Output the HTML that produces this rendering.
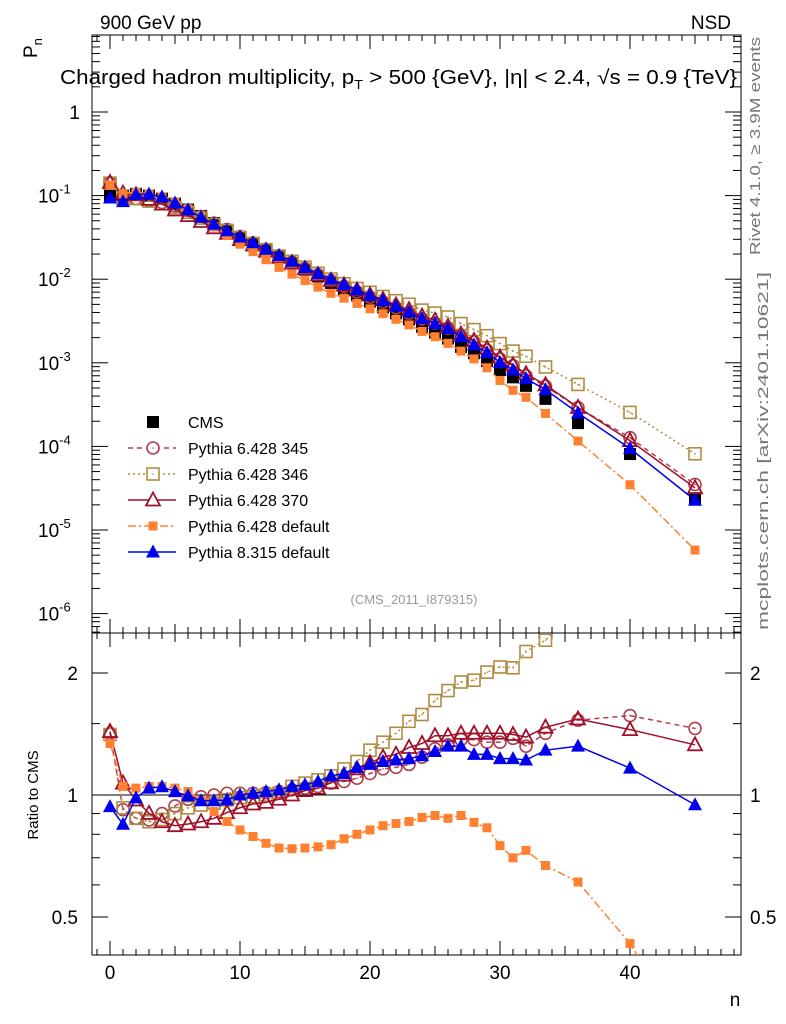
<!DOCTYPE html>
<html><head><meta charset="utf-8"><style>
body{margin:0;background:#fff}
svg{display:block;font-family:"Liberation Sans",sans-serif}
</style></head><body>
<svg id="chart" width="786" height="1024" viewBox="0 0 786 1024" xmlns="http://www.w3.org/2000/svg">
<text x="100" y="29" font-size="19">900 GeV pp</text>
<text x="731" y="29" font-size="19" text-anchor="end">NSD</text>
<text x="60" y="84" font-size="20" textLength="677" lengthAdjust="spacingAndGlyphs">Charged hadron multiplicity, p<tspan font-size="13" dy="5">T</tspan><tspan dy="-5"> &gt; 500 {GeV}, |η| &lt; 2.4, √s = 0.9 {TeV}</tspan></text>
<text transform="translate(37,58) rotate(-90)" font-size="19">P<tspan font-size="13" dy="5">n</tspan></text>
<text transform="translate(760,255) rotate(-90)" font-size="15" fill="#777" textLength="218" lengthAdjust="spacingAndGlyphs">Rivet 4.1.0, ≥ 3.9M events</text>
<text transform="translate(768,630) rotate(-90)" font-size="15" fill="#777" textLength="358" lengthAdjust="spacingAndGlyphs">mcplots.cern.ch [arXiv:2401.10621]</text>
<text x="414" y="604" font-size="13" fill="#999" text-anchor="middle">(CMS_2011_I879315)</text>
<text transform="translate(38,795) rotate(-90)" font-size="15" text-anchor="middle">Ratio to CMS</text>
<text x="735" y="1006" font-size="19" text-anchor="middle">n</text>
<g id="axes"></g>
<g id="marks"></g>
<g id="legend"></g>
<defs><clipPath id="rclip"><rect x="92" y="634" width="649" height="321"/></clipPath><clipPath id="mclip"><rect x="92" y="35" width="649" height="598"/></clipPath></defs>
</svg>
<script>
const nVals=[0,1,2,3,4,5,6,7,8,9,10,11,12,13,14,15,16,17,18,19,20,21,22,23,24,25,26,27,28,29,30,31,32,33.5,36,40,45];
const cmsVals=[0.1,0.1,0.105,0.1,0.092,0.08,0.068,0.057,0.047,0.039,0.032,0.027,0.0225,0.0187,0.0156,0.013,0.0108,0.009,0.0076,0.0064,0.0054,0.0046,0.0039,0.0033,0.0027,0.0023,0.00195,0.00155,0.0013,0.00105,0.00082,0.00067,0.00053,0.00037,0.00019,0.000081,0.000024];
const r345=[1.42,0.92,0.876,0.868,0.9,0.94,0.976,0.99,1.0,1.01,1.01,1.01,1.013,1.02,1.03,1.04,1.05,1.07,1.08,1.1,1.13,1.16,1.17,1.19,1.24,1.3,1.33,1.37,1.37,1.35,1.35,1.38,1.32,1.42,1.53,1.57,1.46];
const r346=[1.41,0.93,0.876,0.859,0.87,0.9,0.93,0.945,0.955,0.973,0.985,0.99,1.0,1.01,1.05,1.07,1.09,1.115,1.16,1.21,1.29,1.35,1.42,1.52,1.58,1.71,1.81,1.9,1.92,2.01,2.07,2.06,2.26,2.41,2.9,3.15,3.4];
const r370=[1.434,1.07,0.972,0.901,0.859,0.84,0.848,0.859,0.876,0.905,0.93,0.95,0.959,0.976,1.0,1.025,1.039,1.072,1.12,1.16,1.2,1.24,1.26,1.31,1.34,1.4,1.4,1.42,1.42,1.42,1.42,1.41,1.39,1.47,1.54,1.45,1.33];
const r6def=[1.34,1.05,1.04,1.05,1.05,1.04,1.02,0.97,0.91,0.86,0.82,0.79,0.76,0.74,0.737,0.74,0.745,0.754,0.78,0.8,0.82,0.84,0.85,0.86,0.88,0.89,0.876,0.89,0.856,0.83,0.75,0.7,0.73,0.67,0.61,0.43,0.24];
const r8=[0.936,0.847,0.984,1.04,1.048,1.019,0.995,0.968,0.968,0.973,1.0,1.01,1.02,1.03,1.05,1.06,1.08,1.115,1.13,1.17,1.19,1.21,1.22,1.23,1.25,1.28,1.32,1.32,1.26,1.26,1.23,1.23,1.22,1.29,1.32,1.165,0.946];
const xTicks=[0,10,20,30,40];
const yDecades=[0,-1,-2,-3,-4,-5,-6];
const yLabels=["1","10","10","10","10","10","10"];
const ratioTicks=[0.5,1,2];

const NS="http://www.w3.org/2000/svg";
const L=92,R=741,T=35,MB=633,RB=955;
const xs=n=>110+13*n;
const ym=v=>112-83.6*Math.log10(v);
const yr=r=>795-122*Math.log2(r);
function mk(tag,at,parent){const e=document.createElementNS(NS,tag);for(const k in at)e.setAttribute(k,at[k]);parent.appendChild(e);return e;}
const ax=document.getElementById('axes'),mg=document.getElementById('marks'),lg=document.getElementById('legend');

let f1=mk('rect',{x:L,y:T,width:R-L,height:MB-T,fill:'none',stroke:'#000','stroke-width':1},ax);


let f2=mk('rect',{x:L,y:MB,width:R-L,height:RB-MB,fill:'none',stroke:'#000','stroke-width':1},ax);


let one=mk('line',{x1:L,x2:R,y1:yr(1),y2:yr(1),stroke:'#000'},ax);



for(let n=-1;n<=48;n++){
  const x=xs(n);if(x<L||x>R)continue;
  const big=n%10===0, med=n%5===0;
  const len=big?14:(med?9:6);
  for(const [y0,d] of [[MB,-1],[T,1],[RB,-1],[MB,1]]){
    mk('line',{x1:x,x2:x,y1:y0,y2:y0+d*len,stroke:'#000'},ax);
  }
}
xTicks.forEach(t=>{
  let tx=mk('text',{x:xs(t),y:979,'font-size':19,'text-anchor':'middle'},ax);
  tx.textContent=t;
  
  
});
yDecades.forEach((d,i)=>{
  const y=ym(Math.pow(10,d));
  mk('line',{x1:L,x2:L+16,y1:y,y2:y,stroke:'#000'},ax);
  mk('line',{x1:R,x2:R-16,y1:y,y2:y,stroke:'#000'},ax);
  for(let m=2;m<=9;m++){
    const yy=ym(m*Math.pow(10,d-1));
    if(yy<T||yy>MB)continue;
    mk('line',{x1:L,x2:L+8,y1:yy,y2:yy,stroke:'#000'},ax);
    mk('line',{x1:R,x2:R-8,y1:yy,y2:yy,stroke:'#000'},ax);
  }
  let tx=mk('text',{x:d===0?80:38,y:y+7,'font-size':19,'text-anchor':d===0?'end':'start'},ax);
  
  
  tx.textContent=yLabels[i];
  if(d!==0){let s=mk('tspan',{'font-size':13,dy:-9},tx);s.textContent=String(d);}
});
for(let m=2;m<=9;m++){const yy=ym(m);if(yy>=T){mk('line',{x1:L,x2:L+8,y1:yy,y2:yy,stroke:'#000'},ax);mk('line',{x1:R,x2:R-8,y1:yy,y2:yy,stroke:'#000'},ax);}}
ratioTicks.forEach(t=>{
  const y=yr(t);
  mk('line',{x1:L,x2:L+16,y1:y,y2:y,stroke:'#000'},ax);
  mk('line',{x1:R,x2:R-16,y1:y,y2:y,stroke:'#000'},ax);
  let a=mk('text',{x:78,y:y+7,'font-size':19,'text-anchor':'end'},ax);a.textContent=t;
  
  
  let b=mk('text',{x:750,y:y+7,'font-size':19},ax);b.textContent=t;
  
  
});
[0.4,0.6,0.7,0.8,0.9,1.5].forEach(t=>{const y=yr(t);if(y<MB||y>RB)return;
  mk('line',{x1:L,x2:L+8,y1:y,y2:y,stroke:'#000'},ax);mk('line',{x1:R,x2:R-8,y1:y,y2:y,stroke:'#000'},ax);});

function marker(type,x,y,col,g){
  if(type==='sqf')return mk('rect',{x:x-6,y:y-6,width:12,height:12,fill:col},g);
  if(type==='sqo'){const e=mk('rect',{x:x-6,y:y-6,width:12,height:12,fill:'none',stroke:col,'stroke-width':1.6},g);mk('circle',{cx:x,cy:y,r:0.8,fill:col},g);return e;}
  if(type==='sqs')return mk('rect',{x:x-4.5,y:y-4.5,width:9,height:9,fill:col},g);
  if(type==='ci'){const e=mk('circle',{cx:x,cy:y,r:6,fill:'none',stroke:col,'stroke-width':1.6},g);mk('circle',{cx:x,cy:y,r:0.8,fill:col},g);return e;}
  if(type==='to')return mk('path',{d:`M${x},${y-7.5}L${x+7},${y+5.5}L${x-7},${y+5.5}Z`,fill:'none',stroke:col,'stroke-width':1.8},g);
  if(type==='tf')return mk('path',{d:`M${x},${y-7.5}L${x+7},${y+5.5}L${x-7},${y+5.5}Z`,fill:col},g);
}
const series=[
 {name:'pythia-6-428-345',label:'Pythia 6.428 345',r:r345,col:'#b0404e',dash:'5,4',m:'ci'},
 {name:'pythia-6-428-346',label:'Pythia 6.428 346',r:r346,col:'#b08c40',dash:'2,3',m:'sqo'},
 {name:'pythia-6-428-370',label:'Pythia 6.428 370',r:r370,col:'#a0102a',dash:'',m:'to'},
 {name:'pythia-6-428-default',label:'Pythia 6.428 default',r:r6def,col:'#ff8030',dash:'8,3,2,3',m:'sqs'},
 {name:'pythia-8-315-default',label:'Pythia 8.315 default',r:r8,col:'#0000ee',dash:'',m:'tf'}
];
const gc=mk('g',{'clip-path':'url(#mclip)'},mg);


nVals.forEach((n,i)=>{const e=marker('sqf',xs(n),ym(cmsVals[i]),'#000',gc);
  
  });
series.forEach(s=>{
  const gm=mk('g',{'clip-path':'url(#mclip)'},mg);
  
  
  const ptsM=nVals.map((n,i)=>[xs(n),ym(cmsVals[i]*s.r[i])]);
  mk('polyline',{points:ptsM.map(p=>p.join(',')).join(' '),fill:'none',stroke:s.col,'stroke-width':1.5,'stroke-dasharray':s.dash},gm);
  ptsM.forEach(p=>{const e=marker(s.m,p[0],p[1],s.col,gm);
    
    });
  const gr=mk('g',{'clip-path':'url(#rclip)'},mg);
  
  
  const ptsR=nVals.map((n,i)=>[xs(n),yr(s.r[i])]);
  mk('polyline',{points:ptsR.map(p=>p.join(',')).join(' '),fill:'none',stroke:s.col,'stroke-width':1.5,'stroke-dasharray':s.dash},gr);
  ptsR.forEach(p=>{const e=marker(s.m,p[0],p[1],s.col,gr);
    
    });
});
const rows=[{label:'CMS',m:'sqf',col:'#000',dash:null}].concat(series);
rows.forEach((s,i)=>{
  const y=422+i*26;
  const g=mk('g',{},lg);
  
  
  if(s.dash!==null)mk('line',{x1:128,x2:176,y1:y,y2:y,stroke:s.col,'stroke-width':1.5,'stroke-dasharray':s.dash},g);
  const mm=marker(s.m,153,y,s.col,g);
  if(s.m==='ci'||s.m==='sqo'||s.m==='to')mm.setAttribute('fill','#fff');
  const t=mk('text',{x:188,y:y+6,'font-size':16},g);t.textContent=s.label;
});
</script>
</body></html>
